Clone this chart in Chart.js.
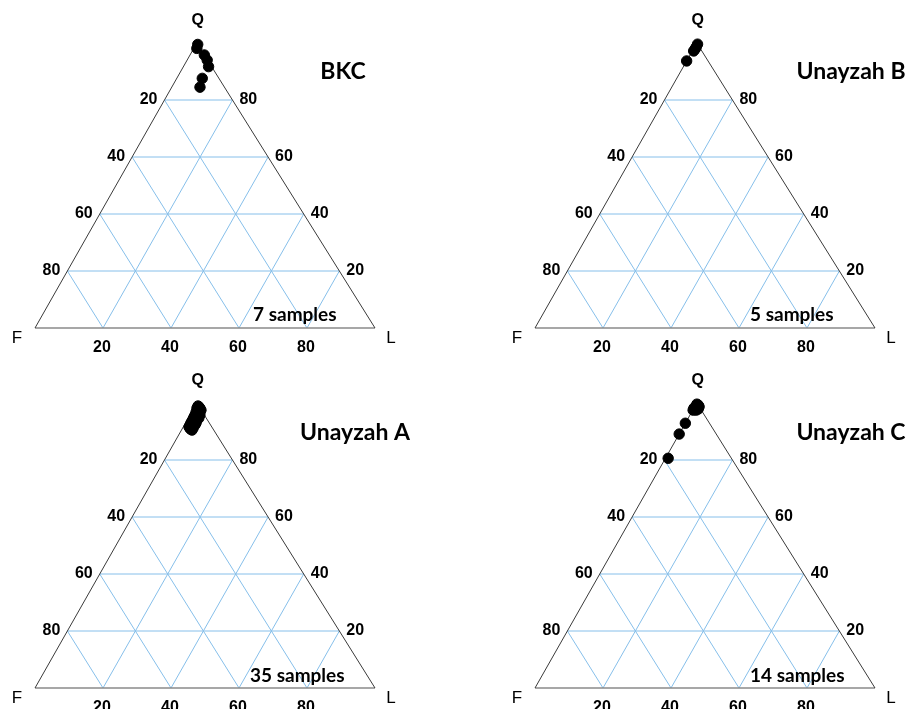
<!DOCTYPE html>
<html>
<head>
<meta charset="utf-8">
<script src="https://cdn.jsdelivr.net/npm/chart.js@4.4.1/dist/chart.umd.min.js"></script>
<style>
  html, body { margin: 0; padding: 0; background: #fff; width: 909px; height: 709px; overflow: hidden; }
  .panel { position: absolute; overflow: hidden; }
  canvas { display: block; }
</style>
</head>
<body>
<div class="panel" style="left:0;top:0;width:500px;height:360px"><canvas id="c0" width="500" height="360"></canvas></div>
<div class="panel" style="left:500px;top:0;width:409px;height:360px"><canvas id="c1" width="409" height="360"></canvas></div>
<div class="panel" style="left:0;top:360px;width:500px;height:349px"><canvas id="c2" width="500" height="360"></canvas></div>
<div class="panel" style="left:500px;top:360px;width:409px;height:349px"><canvas id="c3" width="409" height="360"></canvas></div>
<script>
// QFL compositions (Q = quartz, F = feldspar, L = lithic fragments, in %)
const panelTitles = ['BKC', 'Unayzah B', 'Unayzah A', 'Unayzah C'];
const sampleCounts = [7, 5, 35, 14];
const tickValues = [20, 40, 60, 80];
const vertexLabels = { top: 'Q', left: 'F', right: 'L' };

const bkcQ = [99.5, 98.1, 95.8, 94.0, 91.7, 87.6, 84.5];
const bkcF = [0.0, 1.0, 0.0, 0.1, 0.9, 4.9, 7.2];
const bkcL = [0.5, 0.9, 4.2, 5.9, 7.4, 7.5, 8.3];

const unayzahBQ = [99.6, 98.6, 97.9, 97.2, 93.7];
const unayzahBF = [0.0, 0.9, 1.6, 2.4, 6.3];
const unayzahBL = [0.4, 0.5, 0.5, 0.4, 0.0];

const unayzahAQ = [98.9, 98.6, 98.2, 98.2, 97.5, 97.5, 97.2, 96.8, 96.8, 96.1, 96.1, 95.8,
                   95.4, 95.1, 94.7, 94.7, 94.4, 94.0, 94.0, 93.7, 93.3, 93.0, 93.0, 92.6,
                   92.3, 92.3, 91.9, 91.6, 91.2, 91.2, 90.9, 93.7, 95.8, 95.1, 90.5];
const unayzahAF = [0.2, 0.1, 0.05, 0.9, 0.7, 0.1, 1.1, 1.9, 0.8, 2.0, 1.4, 2.7,
                   2.1, 3.4, 3.0, 2.2, 4.0, 3.7, 3.1, 4.7, 4.3, 3.9, 5.4, 5.0,
                   4.6, 6.0, 5.7, 6.7, 6.3, 5.7, 6.7, 3.8, 1.3, 2.5, 6.4];
const unayzahAL = [0.85, 1.3, 1.75, 0.9, 1.8, 2.4, 1.7, 1.3, 2.4, 1.9, 2.5, 1.5,
                   2.5, 1.5, 2.3, 3.1, 1.6, 2.3, 2.9, 1.6, 2.4, 3.1, 1.6, 2.4,
                   3.1, 1.7, 2.4, 1.7, 2.5, 3.1, 2.4, 2.5, 2.9, 2.4, 3.1];

const unayzahCQ = [99.6, 99.3, 98.9, 98.6, 98.2, 98.2, 97.9, 97.9, 97.5, 97.5, 98.9, 92.9, 89.1, 80.6];
const unayzahCF = [0.2, 0.0, 0.8, 0.1, 1.8, 0.9, 1.6, 0.7, 2.4, 1.5, 0.0, 7.1, 10.9, 18.6];
const unayzahCL = [0.2, 0.7, 0.3, 1.3, 0.0, 0.9, 0.5, 1.4, 0.1, 1.0, 1.1, 0.0, 0.0, 0.8];

const panelSeries = [
  { q: bkcQ, f: bkcF, l: bkcL },
  { q: unayzahBQ, f: unayzahBF, l: unayzahBL },
  { q: unayzahAQ, f: unayzahAF, l: unayzahAL },
  { q: unayzahCQ, f: unayzahCF, l: unayzahCL }
];

// ---- drawing setup ----
const APEX_SHIFT = 0.476;          // horizontal position of the Q apex along the F–L base
const FRAME = { left: 35, right: 375, top: 43, bottom: 328 };
const titlePos = [[343, 72], [351, 72], [355, 73], [351, 73]];
const samplesX = [253, 250, 250, 250];
const samplesY = [315, 315, 316, 316];

const GRID_COLOR = '#86bfea';
const EDGE_COLOR = '#3a3a3a';
const BASE_COLOR = '#8a8a8a';

// ternary (Q, L, F) -> chart x/y, with x/y spanning 0..100 inside the triangle frame
function toXY(q, l, f) {
  const s = q + l + f;
  const Q = q / s * 100, L = l / s * 100;
  return { x: L + APEX_SHIFT * Q, y: Q };
}

function lineSet(points, color, width, order) {
  return {
    type: 'scatter', data: points, showLine: true, fill: false,
    borderColor: color, borderWidth: width, pointRadius: 0, pointHoverRadius: 0,
    clip: false, order: order
  };
}

function gridDatasets() {
  const sets = [];
  tickValues.forEach(t => {
    // constant Q (horizontal)
    sets.push(lineSet([toXY(t, 0, 100 - t), toXY(t, 100 - t, 0)], GRID_COLOR, 1, 3));
    // constant L (parallel to the F–Q edge)
    sets.push(lineSet([toXY(0, t, 100 - t), toXY(100 - t, t, 0)], GRID_COLOR, 1, 3));
    // constant F (parallel to the Q–L edge)
    sets.push(lineSet([toXY(0, 100 - t, t), toXY(100 - t, 0, t)], GRID_COLOR, 1, 3));
  });
  return sets;
}

const labelPlugin = {
  id: 'ternaryLabels',
  afterDraw(chart, args, opts) {
    const ctx = chart.ctx;
    const sx = chart.scales.x, sy = chart.scales.y;
    const P = (q, l, f) => { const p = toXY(q, l, f); return [sx.getPixelForValue(p.x), sy.getPixelForValue(p.y)]; };
    ctx.save();
    ctx.fillStyle = '#000';
    ctx.textBaseline = 'middle';

    // tick labels
    ctx.font = 'bold 16px "Liberation Sans", Arial, sans-serif';
    tickValues.forEach(t => {
      // F–Q edge: feldspar percentage
      let [x, y] = P(100 - t, 0, t);
      ctx.textAlign = 'right';
      ctx.fillText(String(t), x - 7, y);
      // Q–L edge: quartz percentage
      [x, y] = P(t, 100 - t, 0);
      ctx.textAlign = 'left';
      ctx.fillText(String(t), x + 7, y);
      // F–L base: lithic percentage
      [x, y] = P(0, t, 100 - t);
      ctx.textAlign = 'center';
      ctx.fillText(String(t), x - 1, y + 20);
    });

    // vertex labels
    let [x, y] = P(100, 0, 0);
    ctx.textAlign = 'center';
    ctx.font = 'bold 16px "Liberation Sans", Arial, sans-serif';
    ctx.fillText(vertexLabels.top, x + 1, y - 22);
    ctx.font = '17px "Liberation Sans", Arial, sans-serif';
    [x, y] = P(0, 0, 100);
    ctx.fillText(vertexLabels.left, x - 18, y + 10);
    [x, y] = P(0, 100, 0);
    ctx.fillText(vertexLabels.right, x + 16, y + 10);

    // title and sample count
    ctx.font = 'bold 23px Lato, "Open Sans", sans-serif';
    ctx.textAlign = 'center';
    ctx.fillText(opts.title, opts.titleX, opts.titleY);
    ctx.font = 'bold 19px Lato, "Open Sans", sans-serif';
    ctx.textAlign = 'left';
    ctx.fillText(opts.count + ' samples', opts.countX, opts.countY);
    ctx.restore();
  }
};

panelSeries.forEach((series, i) => {
  const canvas = document.getElementById('c' + i);
  const W = canvas.width, H = canvas.height;
  const pts = series.q.map((q, k) => toXY(q, series.l[k], series.f[k]));

  const datasets = [
    {
      type: 'scatter', data: pts, pointRadius: 5.2, pointHoverRadius: 5.2,
      backgroundColor: '#000', borderColor: '#000', borderWidth: 1, clip: false, order: 0
    },
    lineSet([toXY(0, 0, 100), toXY(100, 0, 0), toXY(0, 100, 0)], EDGE_COLOR, 1, 1),
    lineSet([toXY(0, 0, 100), toXY(0, 100, 0)], BASE_COLOR, 1.6, 2),
    ...gridDatasets()
  ];

  new Chart(canvas, {
    type: 'scatter',
    data: { datasets },
    options: {
      responsive: false,
      devicePixelRatio: 1,
      animation: false,
      events: [],
      layout: { padding: { left: FRAME.left, right: W - FRAME.right, top: FRAME.top, bottom: H - FRAME.bottom } },
      scales: {
        x: { type: 'linear', min: 0, max: 100, display: false },
        y: { type: 'linear', min: 0, max: 100, display: false }
      },
      plugins: {
        legend: { display: false },
        tooltip: { enabled: false },
        ternaryLabels: {
          title: panelTitles[i], titleX: titlePos[i][0], titleY: titlePos[i][1],
          count: sampleCounts[i], countX: samplesX[i], countY: samplesY[i]
        }
      }
    },
    plugins: [labelPlugin]
  });
});
</script>
</body>
</html>
